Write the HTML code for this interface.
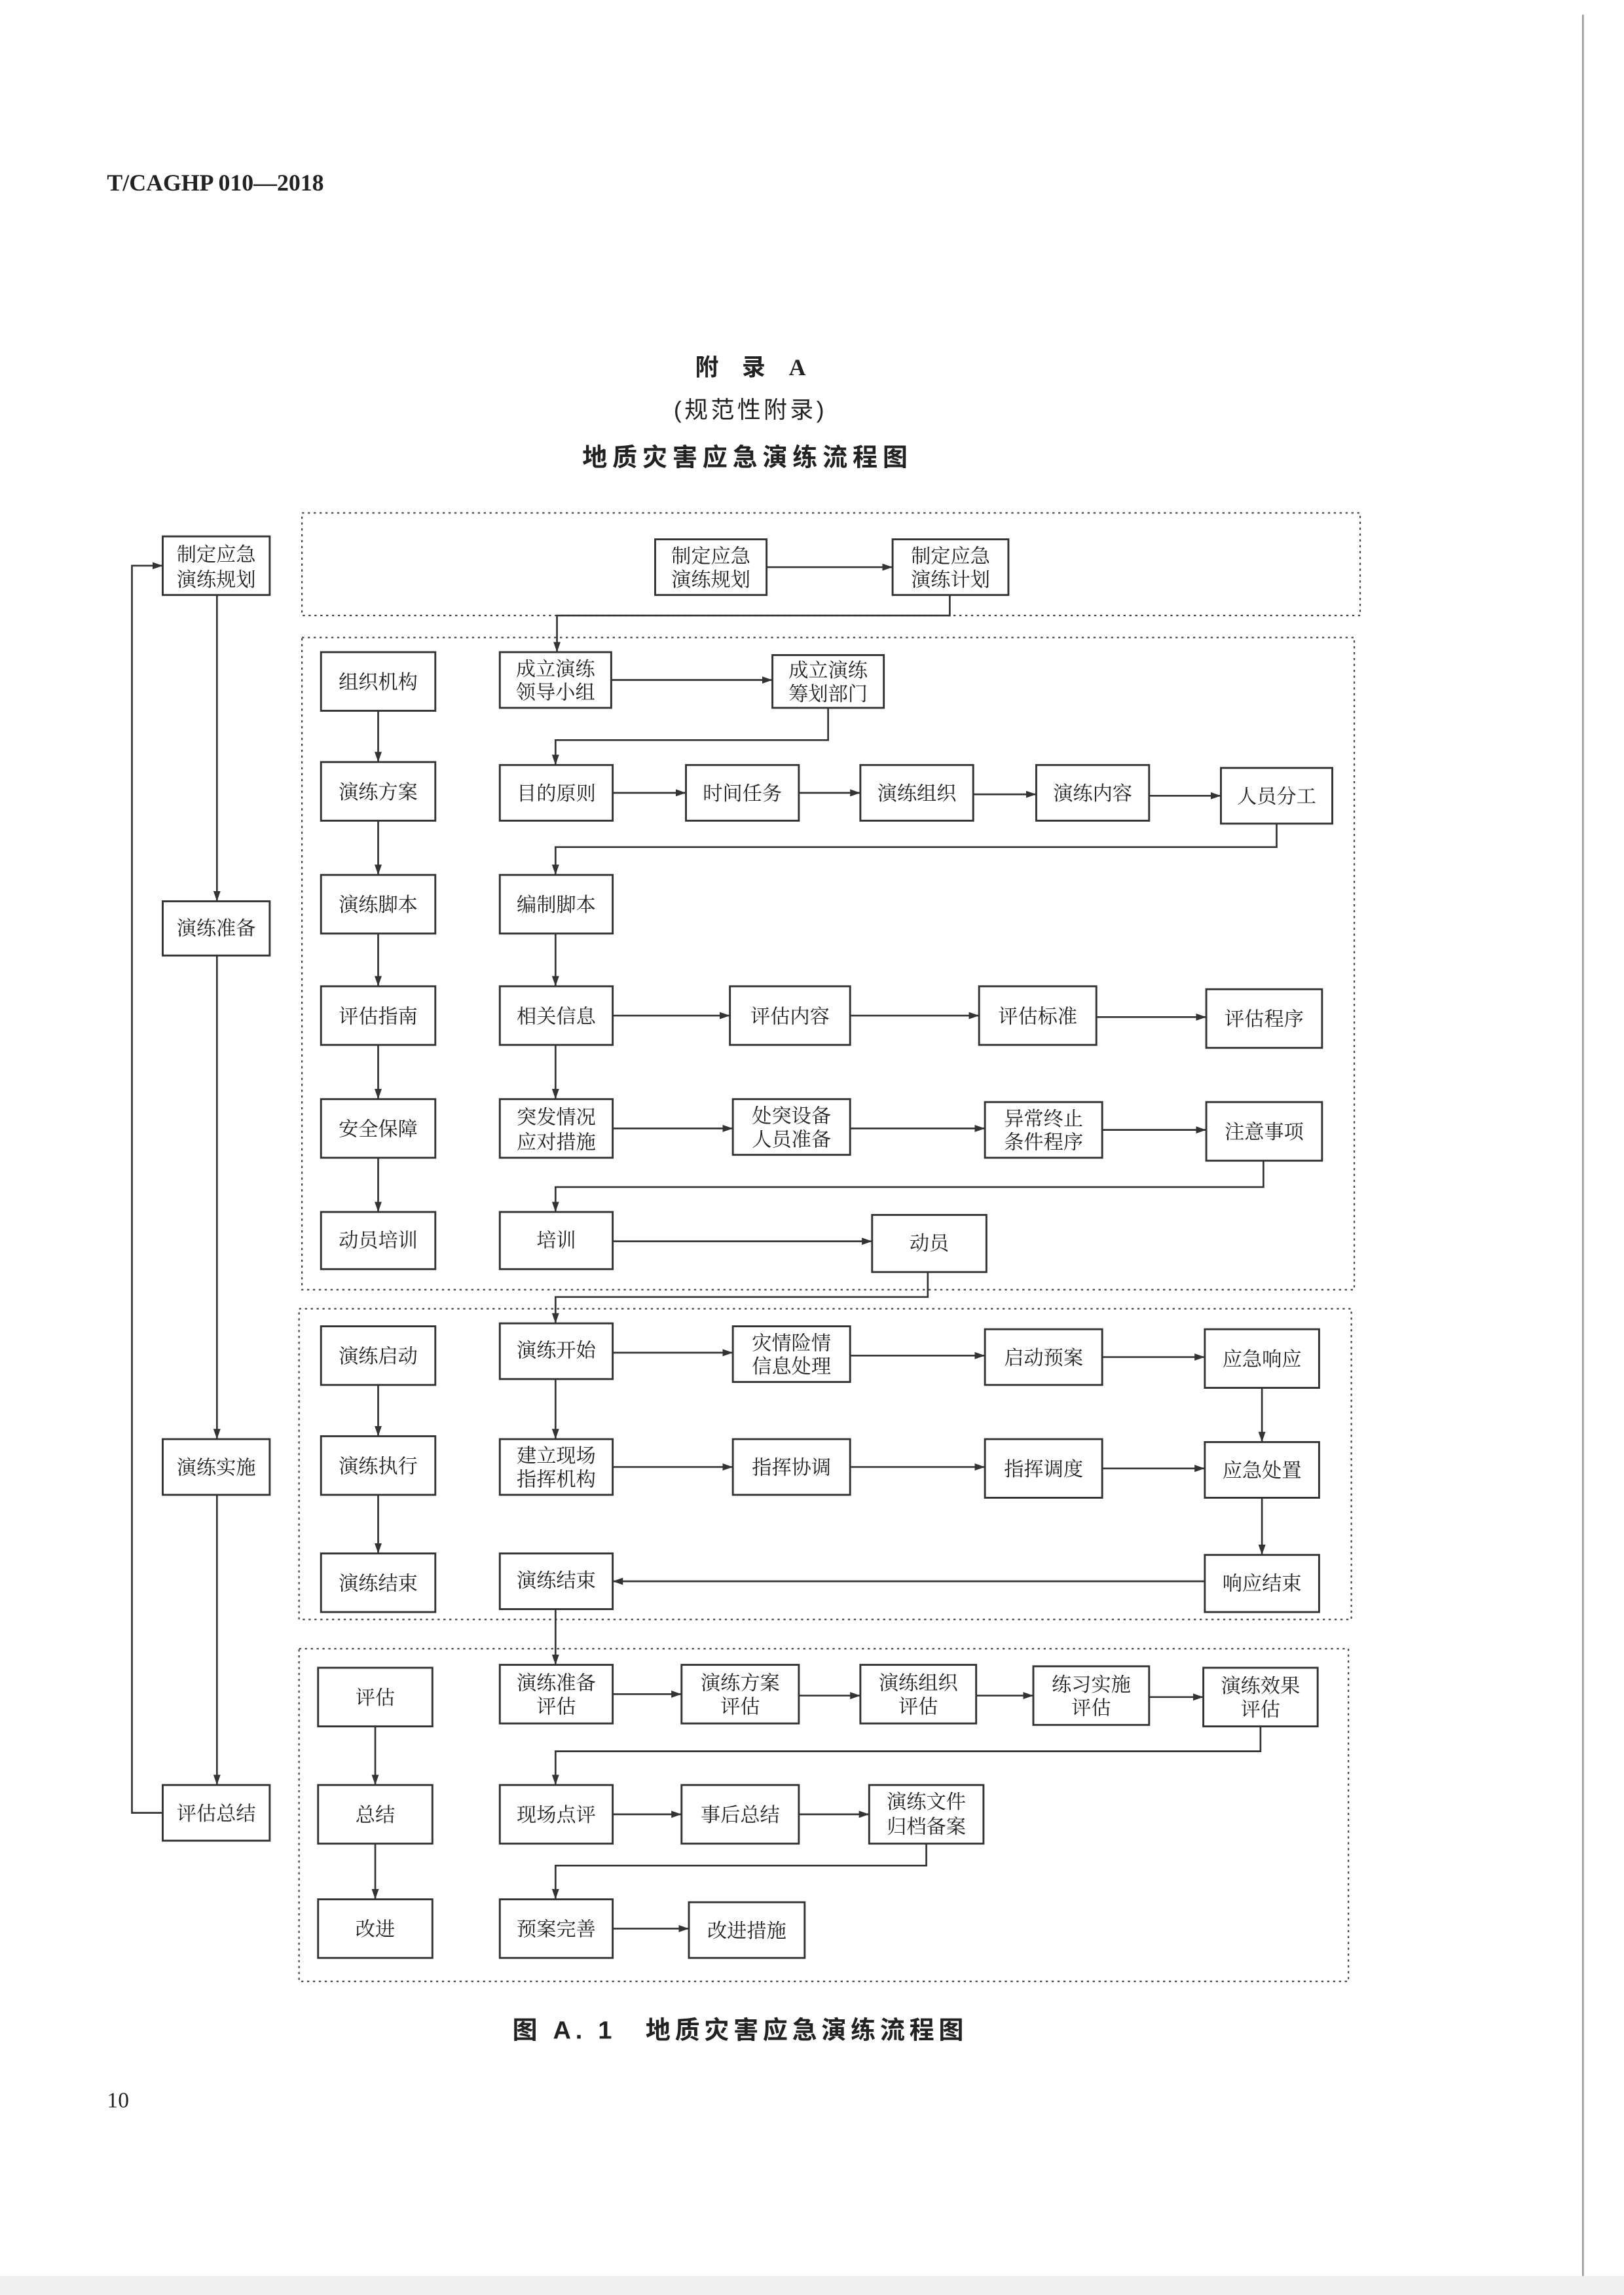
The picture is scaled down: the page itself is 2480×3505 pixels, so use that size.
<!DOCTYPE html>
<html><head><meta charset="utf-8"><style>
html,body{margin:0;padding:0;background:#fff}
svg{display:block}
text{font-family:"Liberation Serif","Noto Serif CJK SC",serif;fill:#222}
.b{fill:#fff;stroke:#333;stroke-width:1.3}
.t{font-size:13.5px;text-anchor:middle;font-family:"Liberation Serif","Noto Serif CJK SC",serif}
.l{fill:none;stroke:#333;stroke-width:1.2}
.d{fill:none;stroke:#444;stroke-width:1;stroke-dasharray:1.5 2.5}
</style></head><body>
<svg width="2480" height="3505" viewBox="0 0 1108 1566" xmlns="http://www.w3.org/2000/svg">
<defs><marker id="a" viewBox="0 0 10 10" refX="10" refY="5" markerWidth="7" markerHeight="7" orient="auto" markerUnits="userSpaceOnUse"><path d="M0,1.5 L10,5 L0,8.5z" fill="#333"/></marker></defs>
<line x1="1080" y1="10" x2="1080" y2="1560" stroke="#999" stroke-width="1.2"/>
<rect x="0" y="1553" width="1108" height="13" fill="#f0f0f0"/>
<text x="73" y="130" style="font-size:16px;font-weight:bold;font-family:'Liberation Serif',serif">T/CAGHP 010—2018</text>
<text x="512" y="256" style="font-size:16px;font-weight:bold;text-anchor:middle;font-family:'Liberation Serif','Noto Sans CJK SC',sans-serif">附　录　A</text>
<text x="512" y="285" style="font-size:16px;text-anchor:middle;letter-spacing:2px;font-family:'Liberation Sans','Noto Sans CJK SC',sans-serif">(规范性附录)</text>
<text x="510" y="318" style="font-size:17px;font-weight:bold;text-anchor:middle;letter-spacing:3.5px;font-family:'Liberation Sans','Noto Sans CJK SC',sans-serif">地质灾害应急演练流程图</text>
<text x="505" y="1391" style="font-size:17px;font-weight:bold;text-anchor:middle;letter-spacing:3px;font-family:'Liberation Sans','Noto Sans CJK SC',sans-serif">图 A. 1　地质灾害应急演练流程图</text>
<text x="73" y="1438" style="font-size:15px;font-family:'Liberation Serif',serif">10</text>

<rect class="d" x="206" y="350" width="722" height="70"/>
<rect class="d" x="206" y="435" width="718" height="445"/>
<rect class="d" x="204" y="893" width="718" height="212"/>
<rect class="d" x="204" y="1125" width="716" height="227"/>

<path class="l" d="M148,406 V615" marker-end="url(#a)"/>
<path class="l" d="M148,652 V982" marker-end="url(#a)"/>
<path class="l" d="M148,1020 V1218" marker-end="url(#a)"/>
<path class="l" d="M111,1237 H90 V386 H111" marker-end="url(#a)"/>
<rect class="b" x="111" y="366" width="73" height="40"/><text class="t" x="147.5" y="383">制定应急</text><text class="t" x="147.5" y="400">演练规划</text>
<rect class="b" x="111" y="615" width="73" height="37"/><text class="t" x="147.5" y="638">演练准备</text>
<rect class="b" x="111" y="982" width="73" height="38"/><text class="t" x="147.5" y="1006">演练实施</text>
<rect class="b" x="111" y="1218" width="73" height="38"/><text class="t" x="147.5" y="1242">评估总结</text>

<path class="l" d="M258,485 V520" marker-end="url(#a)"/><path class="l" d="M258,560 V597" marker-end="url(#a)"/><path class="l" d="M258,637 V673" marker-end="url(#a)"/><path class="l" d="M258,713 V750" marker-end="url(#a)"/><path class="l" d="M258,790 V827" marker-end="url(#a)"/>
<path class="l" d="M258,945 V980" marker-end="url(#a)"/><path class="l" d="M258,1020 V1060" marker-end="url(#a)"/>
<path class="l" d="M256,1178 V1218" marker-end="url(#a)"/><path class="l" d="M256,1258 V1296" marker-end="url(#a)"/>
<rect class="b" x="219" y="445" width="78" height="40"/><text class="t" x="258" y="470">组织机构</text>
<rect class="b" x="219" y="520" width="78" height="40"/><text class="t" x="258" y="545">演练方案</text>
<rect class="b" x="219" y="597" width="78" height="40"/><text class="t" x="258" y="622">演练脚本</text>
<rect class="b" x="219" y="673" width="78" height="40"/><text class="t" x="258" y="698">评估指南</text>
<rect class="b" x="219" y="750" width="78" height="40"/><text class="t" x="258" y="775">安全保障</text>
<rect class="b" x="219" y="827" width="78" height="39"/><text class="t" x="258" y="851">动员培训</text>
<rect class="b" x="219" y="905" width="78" height="40"/><text class="t" x="258" y="930">演练启动</text>
<rect class="b" x="219" y="980" width="78" height="40"/><text class="t" x="258" y="1005">演练执行</text>
<rect class="b" x="219" y="1060" width="78" height="40"/><text class="t" x="258" y="1085">演练结束</text>
<rect class="b" x="217" y="1138" width="78" height="40"/><text class="t" x="256" y="1163">评估</text>
<rect class="b" x="217" y="1218" width="78" height="40"/><text class="t" x="256" y="1243">总结</text>
<rect class="b" x="217" y="1296" width="78" height="40"/><text class="t" x="256" y="1321">改进</text>

<path class="l" d="M523,387 H609" marker-end="url(#a)"/>
<path class="l" d="M648,406 V420 H380 V445" marker-end="url(#a)"/>
<path class="l" d="M417,464 H527" marker-end="url(#a)"/>
<path class="l" d="M565,483 V505 H379 V522" marker-end="url(#a)"/>
<path class="l" d="M418,541 H468" marker-end="url(#a)"/><path class="l" d="M545,541 H587" marker-end="url(#a)"/><path class="l" d="M664,542 H707" marker-end="url(#a)"/><path class="l" d="M784,543 H833" marker-end="url(#a)"/>
<path class="l" d="M871,562 V578 H379 V597" marker-end="url(#a)"/>
<path class="l" d="M379,637 V673" marker-end="url(#a)"/>
<path class="l" d="M418,693 H498" marker-end="url(#a)"/><path class="l" d="M580,693 H668" marker-end="url(#a)"/><path class="l" d="M748,694 H823" marker-end="url(#a)"/>
<path class="l" d="M379,713 V750" marker-end="url(#a)"/>
<path class="l" d="M418,770 H500" marker-end="url(#a)"/><path class="l" d="M580,770 H672" marker-end="url(#a)"/><path class="l" d="M752,771 H823" marker-end="url(#a)"/>
<path class="l" d="M862,792 V810 H379 V827" marker-end="url(#a)"/>
<path class="l" d="M418,847 H595" marker-end="url(#a)"/>
<path class="l" d="M633,868 V885 H379 V903" marker-end="url(#a)"/>
<path class="l" d="M418,923 H500" marker-end="url(#a)"/><path class="l" d="M580,925 H672" marker-end="url(#a)"/><path class="l" d="M752,926 H822" marker-end="url(#a)"/>
<path class="l" d="M379,941 V982" marker-end="url(#a)"/><path class="l" d="M861,947 V984" marker-end="url(#a)"/>
<path class="l" d="M418,1001 H500" marker-end="url(#a)"/><path class="l" d="M580,1001 H672" marker-end="url(#a)"/><path class="l" d="M752,1002 H822" marker-end="url(#a)"/>
<path class="l" d="M861,1022 V1061" marker-end="url(#a)"/>
<path class="l" d="M822,1079 H418" marker-end="url(#a)"/>
<path class="l" d="M379,1098 V1136" marker-end="url(#a)"/>
<path class="l" d="M418,1156 H465" marker-end="url(#a)"/><path class="l" d="M545,1157 H587" marker-end="url(#a)"/><path class="l" d="M666,1157 H705" marker-end="url(#a)"/><path class="l" d="M784,1158 H821" marker-end="url(#a)"/>
<path class="l" d="M860,1178 V1195 H379 V1218" marker-end="url(#a)"/>
<path class="l" d="M418,1238 H465" marker-end="url(#a)"/><path class="l" d="M545,1238 H593" marker-end="url(#a)"/>
<path class="l" d="M632,1258 V1273 H379 V1296" marker-end="url(#a)"/>
<path class="l" d="M418,1316 H470" marker-end="url(#a)"/>

<rect class="b" x="447" y="368" width="76" height="38"/><text class="t" x="485" y="384">制定应急</text><text class="t" x="485" y="400">演练规划</text>
<rect class="b" x="609" y="368" width="79" height="38"/><text class="t" x="648.5" y="384">制定应急</text><text class="t" x="648.5" y="400">演练计划</text>
<rect class="b" x="341" y="445" width="76" height="38"/><text class="t" x="379" y="461">成立演练</text><text class="t" x="379" y="477">领导小组</text>
<rect class="b" x="527" y="447" width="76" height="36"/><text class="t" x="565" y="462">成立演练</text><text class="t" x="565" y="478">筹划部门</text>
<rect class="b" x="341" y="522" width="77" height="38"/><text class="t" x="379.5" y="546">目的原则</text>
<rect class="b" x="468" y="522" width="77" height="38"/><text class="t" x="506.5" y="546">时间任务</text>
<rect class="b" x="587" y="522" width="77" height="38"/><text class="t" x="625.5" y="546">演练组织</text>
<rect class="b" x="707" y="522" width="77" height="38"/><text class="t" x="745.5" y="546">演练内容</text>
<rect class="b" x="833" y="524" width="76" height="38"/><text class="t" x="871" y="548">人员分工</text>
<rect class="b" x="341" y="597" width="77" height="40"/><text class="t" x="379.5" y="622">编制脚本</text>
<rect class="b" x="341" y="673" width="77" height="40"/><text class="t" x="379.5" y="698">相关信息</text>
<rect class="b" x="498" y="673" width="82" height="40"/><text class="t" x="539" y="698">评估内容</text>
<rect class="b" x="668" y="673" width="80" height="40"/><text class="t" x="708" y="698">评估标准</text>
<rect class="b" x="823" y="675" width="79" height="40"/><text class="t" x="862.5" y="700">评估程序</text>
<rect class="b" x="341" y="750" width="77" height="40"/><text class="t" x="379.5" y="767">突发情况</text><text class="t" x="379.5" y="784">应对措施</text>
<rect class="b" x="500" y="750" width="80" height="38"/><text class="t" x="540" y="766">处突设备</text><text class="t" x="540" y="782">人员准备</text>
<rect class="b" x="672" y="752" width="80" height="38"/><text class="t" x="712" y="768">异常终止</text><text class="t" x="712" y="784">条件程序</text>
<rect class="b" x="823" y="752" width="79" height="40"/><text class="t" x="862.5" y="777">注意事项</text>
<rect class="b" x="341" y="827" width="77" height="39"/><text class="t" x="379.5" y="851">培训</text>
<rect class="b" x="595" y="829" width="78" height="39"/><text class="t" x="634" y="853">动员</text>
<rect class="b" x="341" y="903" width="77" height="38"/><text class="t" x="379.5" y="926">演练开始</text>
<rect class="b" x="500" y="905" width="80" height="38"/><text class="t" x="540" y="921">灾情险情</text><text class="t" x="540" y="937">信息处理</text>
<rect class="b" x="672" y="907" width="80" height="38"/><text class="t" x="712" y="931">启动预案</text>
<rect class="b" x="822" y="907" width="78" height="40"/><text class="t" x="861" y="932">应急响应</text>
<rect class="b" x="341" y="982" width="77" height="38"/><text class="t" x="379.5" y="998">建立现场</text><text class="t" x="379.5" y="1014">指挥机构</text>
<rect class="b" x="500" y="982" width="80" height="38"/><text class="t" x="540" y="1006">指挥协调</text>
<rect class="b" x="672" y="982" width="80" height="40"/><text class="t" x="712" y="1007">指挥调度</text>
<rect class="b" x="822" y="984" width="78" height="38"/><text class="t" x="861" y="1008">应急处置</text>
<rect class="b" x="822" y="1061" width="78" height="39"/><text class="t" x="861" y="1085">响应结束</text>
<rect class="b" x="341" y="1060" width="77" height="38"/><text class="t" x="379.5" y="1083">演练结束</text>
<rect class="b" x="341" y="1136" width="77" height="40"/><text class="t" x="379.5" y="1153">演练准备</text><text class="t" x="379.5" y="1169">评估</text>
<rect class="b" x="465" y="1136" width="80" height="40"/><text class="t" x="505" y="1153">演练方案</text><text class="t" x="505" y="1169">评估</text>
<rect class="b" x="587" y="1136" width="79" height="40"/><text class="t" x="626.5" y="1153">演练组织</text><text class="t" x="626.5" y="1169">评估</text>
<rect class="b" x="705" y="1137" width="79" height="40"/><text class="t" x="744.5" y="1154">练习实施</text><text class="t" x="744.5" y="1170">评估</text>
<rect class="b" x="821" y="1138" width="78" height="40"/><text class="t" x="860" y="1155">演练效果</text><text class="t" x="860" y="1171">评估</text>
<rect class="b" x="341" y="1218" width="77" height="40"/><text class="t" x="379.5" y="1243">现场点评</text>
<rect class="b" x="465" y="1218" width="80" height="40"/><text class="t" x="505" y="1243">事后总结</text>
<rect class="b" x="593" y="1218" width="78" height="40"/><text class="t" x="632" y="1234">演练文件</text><text class="t" x="632" y="1251">归档备案</text>
<rect class="b" x="341" y="1296" width="77" height="40"/><text class="t" x="379.5" y="1321">预案完善</text>
<rect class="b" x="470" y="1298" width="79" height="38"/><text class="t" x="509.5" y="1322">改进措施</text>
</svg>
</body></html>
